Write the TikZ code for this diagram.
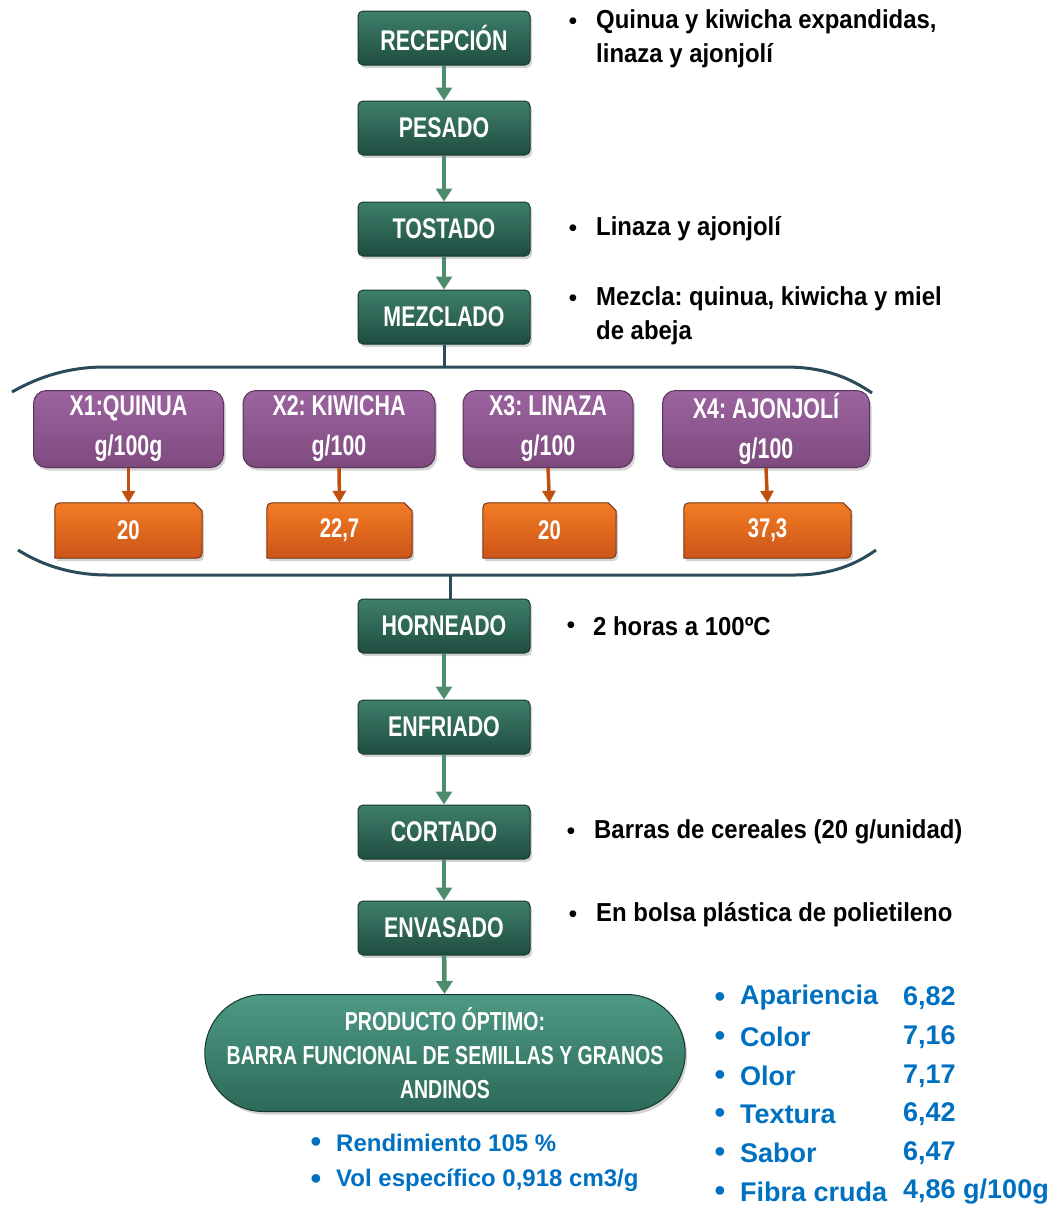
\documentclass[tikz,border=0pt]{standalone}
\usepackage{fontspec}
\setmainfont{Liberation Sans}
\newfontfamily\narrowfont[FakeStretch=0.75]{Liberation Sans}
\newfontfamily\semifont[FakeStretch=0.92]{Liberation Sans}
\usetikzlibrary{shadows,arrows.meta,shapes.misc,backgrounds}
\definecolor{gtop}{HTML}{3F7F6C}
\definecolor{gbot}{HTML}{1E4D40}
\definecolor{gedge}{HTML}{17382F}
\definecolor{garrow}{HTML}{4E8C6E}
\definecolor{ptop}{HTML}{9C64A0}
\definecolor{pbot}{HTML}{7E4A7E}
\definecolor{pedge}{HTML}{5A3358}
\definecolor{otop}{HTML}{F27C24}
\definecolor{obot}{HTML}{CC5518}
\definecolor{oedge}{HTML}{7A3210}
\definecolor{oarrow}{HTML}{C0500F}
\definecolor{bline}{HTML}{2A4B57}
\definecolor{tblue}{HTML}{0070C0}
\definecolor{prtop}{HTML}{4E9A84}
\definecolor{prbot}{HTML}{2C6A58}
\tikzset{
  shad/.style={drop shadow={opacity=0.35, shadow xshift=2pt, shadow yshift=-3pt}},
  stepbox/.style={rounded corners=5pt, top color=gtop, bottom color=gbot, draw=gedge, line width=1pt,
    minimum width=172pt, minimum height=54pt, inner sep=0pt, text=white,
    font=\narrowfont\bfseries\frenchspacing\fontsize{28.5}{30}\selectfont, shad},
  ingbox/.style={rounded corners=13pt, top color=ptop, bottom color=pbot, draw=pedge, line width=1pt,
    minimum height=77pt, inner sep=0pt, text=white, align=center,
    font=\narrowfont\bfseries\frenchspacing\fontsize{28.5}{40}\selectfont, shad},
  valbox/.style={minimum height=55pt, inner sep=0pt, text=white,
    font=\narrowfont\bfseries\fontsize{27}{28}\selectfont},
  ofill/.style={top color=otop, bottom color=obot, draw=oedge, line width=1pt, shad},
  prodbox/.style={rounded rectangle, top color=prtop, bottom color=prbot, draw=gedge, line width=1pt,
    minimum width=480pt, minimum height=117pt, inner sep=0pt, text=white, align=center,
    font=\narrowfont\bfseries\frenchspacing\fontsize{26}{34}\selectfont, shad},
  garr/.style={draw=garrow, line width=4.5pt, -{Triangle[width=16pt,length=13pt]}},
  oarr/.style={draw=oarrow, line width=3.5pt, -{Triangle[width=13pt,length=12pt]}},
  gline/.style={draw=bline, line width=3pt},
  note/.style={anchor=west, inner sep=0pt, align=left, text=black, font=\semifont\bfseries\frenchspacing\fontsize{26}{34}\selectfont},
  bul/.style={inner sep=0pt, text=black, font=\fontsize{25}{25}\selectfont},
  bnote/.style={anchor=west, inner sep=0pt, text=tblue, font=\bfseries\fontsize{27}{30}\selectfont},
  bnote2/.style={anchor=west, inner sep=0pt, text=tblue, font=\bfseries\fontsize{24}{30}\selectfont},
  bbul/.style={inner sep=0pt, text=tblue, font=\fontsize{32}{32}\selectfont},
}
\begin{document}
\begin{tikzpicture}[x=1pt,y=-1pt]
\useasboundingbox (0,0) rectangle (1054,1210);
% process steps
\node[stepbox] (rec) at (444,38) {RECEPCIÓN};
\node[stepbox] (pes) at (444,128) {PESADO};
\node[stepbox] (tos) at (444,229) {TOSTADO};
\node[stepbox] (mez) at (444,317) {MEZCLADO};
\node[stepbox] (hor) at (444,626) {HORNEADO};
\node[stepbox] (enf) at (444,727) {ENFRIADO};
\node[stepbox] (cor) at (444,832) {CORTADO};
\node[stepbox] (env) at (444,928) {ENVASADO};
\node[prodbox] (prod) at (445,1053) {PRODUCTO ÓPTIMO:\\BARRA FUNCIONAL DE SEMILLAS Y GRANOS\\ANDINOS};
% arrows
\draw[garr] (rec) -- (pes);
\draw[garr] (pes) -- (tos);
\draw[garr] (tos) -- (mez);
\draw[garr] (hor) -- (enf);
\draw[garr] (enf) -- (cor);
\draw[garr] (cor) -- (env);
\draw[garr] (env) -- (prod);
% bracket
\coordinate (btop) at (444,367);
\coordinate (bbot) at (450,575);
\draw[gline] (12,392) .. controls (40,376) and (70,367) .. (105,367) -- (785,367) .. controls (825,367) and (850,378) .. (872,393);
\draw[gline] (18,550) .. controls (45,567) and (75,575) .. (108,575) -- (795,575) .. controls (830,575) and (855,565) .. (876,550);
\draw[gline] (mez.south) -- (btop);
\draw[gline] (bbot) -- (bbot |- hor.north);
% ingredients
\node[ingbox, minimum width=190pt] (x1) at (128.5,429) {X1:QUINUA\\g/100g};
\node[ingbox, minimum width=192pt] (x2) at (339,429) {X2: KIWICHA\\g/100};
\node[ingbox, minimum width=170pt] (x3) at (548,429) {X3: LINAZA\\g/100};
\node[ingbox, minimum width=207pt] (x4) at (766,429) {X4: AJONJOLÍ\\g/100};
\node[valbox, minimum width=147pt] (v1) at (128.5,530.5) {20};
\node[valbox, minimum width=145pt] (v2) at (339.5,530.5) {22,7};
\node[valbox, minimum width=133pt] (v3) at (549.5,530.5) {20};
\node[valbox, minimum width=167pt] (v4) at (767.5,530.5) {37,3};
\begin{pgfonlayer}{background}
\foreach \v in {v1,v2,v3,v4}{
  \path[ofill] (\v.south west) -- ([yshift=-11pt]\v.north west) .. controls (\v.north west) .. ([xshift=11pt]\v.north west)
     -- ([xshift=-8pt]\v.north east) -- ([yshift=-8pt]\v.north east)
     -- ([yshift=11pt]\v.south east) .. controls (\v.south east) .. ([xshift=-11pt]\v.south east) -- cycle;
}
\end{pgfonlayer}
\draw[oarr] (x1.south) -- (v1.north);
\draw[oarr] (x2.south) -- (v2.north);
\draw[oarr] (x3.south) -- (v3.north);
\draw[oarr] (x4.south) -- (v4.north);
% notes (black)
\node[bul] (b1) at (573,24) {•};
\node[note] (n1) at (596,39) {Quinua y kiwicha expandidas,\\linaza y ajonjolí};
\node[bul] (b2) at (573,231) {•};
\node[note] (n2) at (596,229) {Linaza y ajonjolí};
\node[bul] (b3) at (573,301) {•};
\node[note] (n3) at (596,316) {Mezcla: quinua, kiwicha y miel\\de abeja};
\node[bul] (b4) at (571,628) {•};
\node[note] (n4) at (593,626) {2 horas a 100ºC};
\node[bul] (b5) at (571,834) {•};
\node[note] (n5) at (594,832) {Barras de cereales (20 g/unidad)};
\node[bul] (b6) at (573,917) {•};
\node[note] (n6) at (596,915) {En bolsa plástica de polietileno};
% blue notes
\node[bbul] (c1) at (720,1000) {•};
\node[bnote] (d1) at (740,998) {Apariencia};
\node[bnote] (e1) at (903,998) {6,82};
\node[bbul] (c2) at (720,1039) {•};
\node[bnote] (d2) at (740,1037) {Color};
\node[bnote] (e2) at (903,1037) {7,16};
\node[bbul] (c3) at (720,1078) {•};
\node[bnote] (d3) at (740,1076) {Olor};
\node[bnote] (e3) at (903,1076) {7,17};
\node[bbul] (c4) at (720,1116) {•};
\node[bnote] (d4) at (740,1114) {Textura};
\node[bnote] (e4) at (903,1114) {6,42};
\node[bbul] (c5) at (720,1155) {•};
\node[bnote] (d5) at (740,1153) {Sabor};
\node[bnote] (e5) at (903,1153) {6,47};
\node[bbul] (c6) at (720,1194) {•};
\node[bnote] (d6) at (740,1192) {Fibra cruda};
\node[bnote] (e6) at (903,1192) {4,86 g/100g};
\node[bbul] (f1) at (316,1145) {•};
\node[bnote2] (g1) at (336,1143) {Rendimiento 105 \%};
\node[bbul] (f2) at (316,1182) {•};
\node[bnote2] (g2) at (336,1180) {Vol específico 0,918 cm3/g};
\end{tikzpicture}
\end{document}
